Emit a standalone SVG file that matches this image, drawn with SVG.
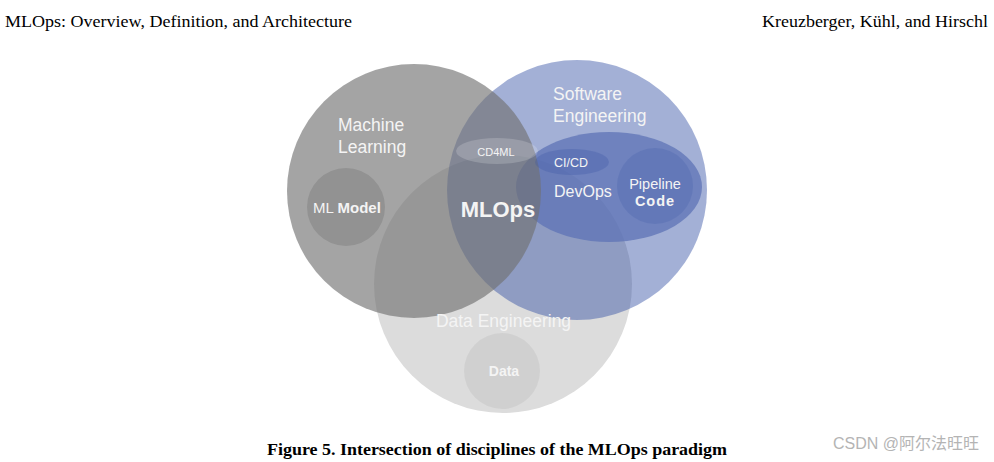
<svg xmlns="http://www.w3.org/2000/svg" width="994" height="462" viewBox="0 0 994 462">
<style>
.hdr{font-family:"Liberation Serif","Times New Roman",serif;font-size:17px;fill:#000}
.cap{font-family:"Liberation Serif","Times New Roman",serif;font-size:16px;font-weight:bold;fill:#000}
.lbl{font-family:"Liberation Sans",Arial,sans-serif;fill:#f4f4f4}
.b{font-weight:bold}
.wm{font-family:"Liberation Sans","Noto Sans CJK SC",sans-serif;font-size:16px;fill:#b4b4b4}
</style>
<rect width="994" height="462" fill="#fff"/>
<text class="hdr" x="5" y="27" textLength="347" lengthAdjust="spacingAndGlyphs">MLOps: Overview, Definition, and Architecture</text>
<text class="hdr" x="988" y="27" text-anchor="end" textLength="226" lengthAdjust="spacingAndGlyphs">Kreuzberger, Kühl, and Hirschl</text>

<g id="data-engineering">
  <circle cx="503" cy="284" r="129" fill="#dcdcdc"/>
</g>
<g id="software-engineering">
  <circle cx="577" cy="190" r="130" fill="#2a48a0" fill-opacity="0.43"/>
</g>
<g id="devops">
  <ellipse cx="609" cy="187" rx="93" ry="55" fill="#5e73b5" fill-opacity="0.75"/>
</g>
<g id="machine-learning">
  <circle cx="414" cy="191" r="127" fill="#707070" fill-opacity="0.64"/>
</g>
<g id="ml-model">
  <circle cx="346" cy="207" r="39" fill="#000" fill-opacity="0.11"/>
  <text class="lbl" x="347" y="213" font-size="15" text-anchor="middle">ML <tspan class="b">Model</tspan></text>
</g>
<g id="data">
  <circle cx="502" cy="371" r="38" fill="#000" fill-opacity="0.05"/>
  <text class="lbl b" x="504" y="376" font-size="14" text-anchor="middle">Data</text>
</g>
<g id="cd4ml">
  <ellipse cx="497" cy="151" rx="41" ry="13" fill="#fff" fill-opacity="0.18"/>
  <text class="lbl" x="496" y="156" font-size="11" text-anchor="middle">CD4ML</text>
</g>
<g id="cicd">
  <ellipse cx="572" cy="162" rx="37" ry="13" fill="#3d55a6" fill-opacity="0.3"/>
  <text class="lbl" x="571" y="167" font-size="12.5" text-anchor="middle">CI/CD</text>
</g>
<g id="pipeline-code">
  <circle cx="655" cy="186" r="38" fill="#4a62ad" fill-opacity="0.3"/>
  <text class="lbl" x="655" y="189" font-size="14.5" text-anchor="middle">Pipeline</text>
  <text class="lbl b" x="655" y="206" font-size="14.5" text-anchor="middle" letter-spacing="1">Code</text>
</g>
<g id="labels">
  <text class="lbl" x="338" y="131" font-size="17.5">Machine</text>
  <text class="lbl" x="338" y="153" font-size="17.5">Learning</text>
  <text class="lbl" x="553" y="100" font-size="17.5">Software</text>
  <text class="lbl" x="553" y="122" font-size="17.5">Engineering</text>
  <text class="lbl" x="554" y="197" font-size="16">DevOps</text>
  <text class="lbl b" x="498" y="217" font-size="22" text-anchor="middle">MLOps</text>
  <text class="lbl" x="503.5" y="327" font-size="17.5" text-anchor="middle">Data Engineering</text>
</g>
<g id="connectors"></g>

<text class="cap" x="497" y="455" text-anchor="middle" textLength="460" lengthAdjust="spacingAndGlyphs">Figure 5. Intersection of disciplines of the MLOps paradigm</text>
<text class="wm" x="979" y="449" text-anchor="end">CSDN @阿尔法旺旺</text>
</svg>
